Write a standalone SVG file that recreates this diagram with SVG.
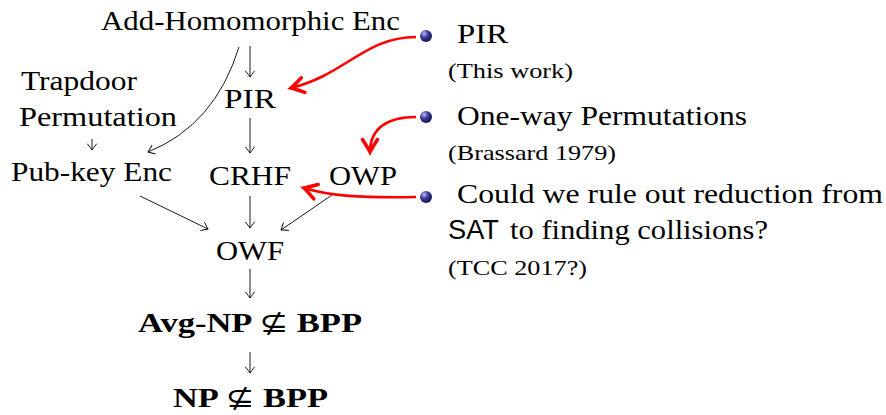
<svg xmlns="http://www.w3.org/2000/svg" width="886" height="415" viewBox="0 0 886 415">
  <style>
    .t { font-family: "Liberation Serif", "DejaVu Serif", serif; font-size: 27px; fill: #000; }
    .s { font-family: "Liberation Serif", "DejaVu Serif", serif; font-size: 21px; fill: #000; }
    .b { font-weight: bold; font-size: 28px; }
    .sf { font-family: "Liberation Sans", "DejaVu Sans", sans-serif; }
    .sym { font-family: "DejaVu Sans", sans-serif; font-weight: normal; }
    .imp { fill: none; stroke: #000; stroke-width: 0.9; marker-end: url(#to); }
    .ref { fill: none; stroke: #ff0000; stroke-width: 2.6; marker-end: url(#redto); }
  </style>
  <defs>
    <marker id="to" markerUnits="userSpaceOnUse" markerWidth="14" markerHeight="14" refX="0" refY="0" viewBox="-8 -7 10 14" orient="auto" overflow="visible">
      <path d="M-6,-4.5 Q-1.5,-1 0,0 Q-1.5,1 -6,4.5" fill="none" stroke="#000" stroke-width="0.9" stroke-linecap="round"/>
    </marker>
    <marker id="redto" markerUnits="userSpaceOnUse" markerWidth="20" markerHeight="20" refX="0" refY="0" viewBox="-12 -8 14 16" orient="auto" overflow="visible">
      <path d="M-10,-6 Q-2.5,-1.2 0,0 Q-2.5,1.2 -10,6" fill="none" stroke="#ff0000" stroke-width="2.8" stroke-linecap="round"/>
    </marker>
    <radialGradient id="ball" cx="0.35" cy="0.3" r="0.75">
      <stop offset="0" stop-color="#b8b8f0"/>
      <stop offset="0.45" stop-color="#3a3aa0"/>
      <stop offset="1" stop-color="#10104a"/>
    </radialGradient>
  </defs>

  <!-- implication graph -->
  <g id="add-hom"><text class="t" x="101" y="30" textLength="299" lengthAdjust="spacingAndGlyphs">Add-Homomorphic Enc</text></g>
  <g id="trapdoor">
    <text class="t" x="21" y="90" textLength="116" lengthAdjust="spacingAndGlyphs">Trapdoor</text>
    <text class="t" x="19" y="126" textLength="158" lengthAdjust="spacingAndGlyphs">Permutation</text>
  </g>
  <g id="pir"><text class="t" x="224" y="108" textLength="52" lengthAdjust="spacingAndGlyphs">PIR</text></g>
  <g id="pubkey"><text class="t" x="11" y="181" textLength="161" lengthAdjust="spacingAndGlyphs">Pub-key Enc</text></g>
  <g id="crhf"><text class="t" x="209" y="185" textLength="82" lengthAdjust="spacingAndGlyphs">CRHF</text></g>
  <g id="owp"><text class="t" x="329" y="185" textLength="68" lengthAdjust="spacingAndGlyphs">OWP</text></g>
  <g id="owf"><text class="t" x="216" y="260" textLength="68" lengthAdjust="spacingAndGlyphs">OWF</text></g>
  <g id="avg-np"><text class="t b" x="138" y="332" textLength="224" lengthAdjust="spacingAndGlyphs">Avg-NP <tspan class="sym">⊈</tspan> BPP</text></g>
  <g id="np"><text class="t b" x="173" y="407" textLength="155" lengthAdjust="spacingAndGlyphs">NP <tspan class="sym">⊈</tspan> BPP</text></g>

  <g id="connectors">
    <path class="imp" d="M250,46 L250,77"/>
    <path class="imp" d="M239,47 Q215,125 148,152"/>
    <path class="imp" d="M92,139 L92,150"/>
    <path class="imp" d="M250,118 L250,153"/>
    <path class="imp" d="M140,196 L208,229"/>
    <path class="imp" d="M250,196 L250,228"/>
    <path class="imp" d="M332,195 L281,230"/>
    <path class="imp" d="M250,269 L250,298"/>
    <path class="imp" d="M250,352 L250,373"/>
    <path class="ref" d="M416,37 C365,37 345,75 291,88"/>
    <path class="ref" d="M416,117 C385,117 370,130 370,152"/>
    <path class="ref" d="M416,197 C360,198 330,196 304,188"/>
  </g>

  <!-- result list -->
  <g id="item-pir">
    <circle cx="426" cy="36" r="6" fill="url(#ball)"/>
    <text class="t" x="457" y="43" textLength="51" lengthAdjust="spacingAndGlyphs">PIR</text>
    <text class="s" x="448" y="78" textLength="125" lengthAdjust="spacingAndGlyphs">(This work)</text>
  </g>
  <g id="item-owp">
    <circle cx="426" cy="117" r="6" fill="url(#ball)"/>
    <text class="t" x="457" y="125" textLength="290" lengthAdjust="spacingAndGlyphs">One-way Permutations</text>
    <text class="s" x="448" y="160" textLength="168" lengthAdjust="spacingAndGlyphs">(Brassard 1979)</text>
  </g>
  <g id="item-sat">
    <circle cx="426" cy="197" r="6" fill="url(#ball)"/>
    <text class="t" x="457" y="203" textLength="426" lengthAdjust="spacingAndGlyphs">Could we rule out reduction from</text>
    <text class="t" x="448" y="239"><tspan class="sf" textLength="51" lengthAdjust="spacingAndGlyphs">SAT</tspan><tspan x="510" textLength="258" lengthAdjust="spacingAndGlyphs">to finding collisions?</tspan></text>
    <text class="s" x="448" y="275" textLength="139" lengthAdjust="spacingAndGlyphs">(TCC 2017?)</text>
  </g>
</svg>
